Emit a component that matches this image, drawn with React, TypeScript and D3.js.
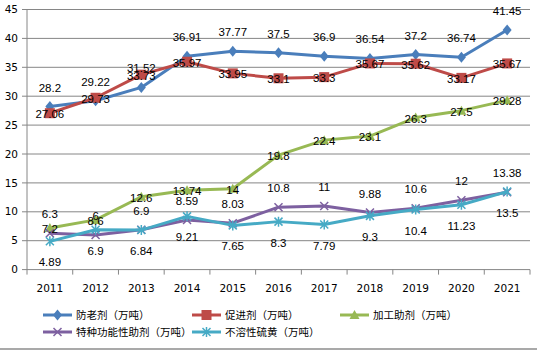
import React, { useEffect, useRef } from 'react';
import * as d3 from 'd3';

const years = ['2011', '2012', '2013', '2014', '2015', '2016', '2017', '2018', '2019', '2020', '2021'];
const antioxidant = [28.2, 29.22, 31.52, 36.91, 37.77, 37.5, 36.9, 36.54, 37.2, 36.74, 41.45];
const accelerator = [27.06, 29.73, 33.73, 35.97, 33.95, 33.1, 33.3, 35.67, 35.62, 33.17, 35.67];
const processingAid = [7.2, 8.6, 12.6, 13.74, 14, 19.8, 22.4, 23.1, 26.3, 27.5, 29.28];
const specialAid = [6.3, 6, 6.9, 8.59, 8.03, 10.8, 11, 9.88, 10.6, 12, 13.38];
const insolubleSulfur = [4.89, 6.9, 6.84, 9.21, 7.65, 8.3, 7.79, 9.3, 10.4, 11.23, 13.5];
const yTicks = [0, 5, 10, 15, 20, 25, 30, 35, 40, 45];

const series = [
  { name: '防老剂（万吨）', values: antioxidant, color: '#4A7EBB', marker: 'diamond', label: 'above' },
  { name: '促进剂（万吨）', values: accelerator, color: '#BE4B48', marker: 'square', label: 'center' },
  { name: '加工助剂（万吨）', values: processingAid, color: '#98B954', marker: 'triangle', label: 'center' },
  { name: '特种功能性助剂（万吨）', values: specialAid, color: '#7D60A0', marker: 'x', label: 'above' },
  { name: '不溶性硫黄（万吨）', values: insolubleSulfur, color: '#46AAC5', marker: 'star', label: 'below' },
];

const W = 537, H = 352;
const numFont = '"Liberation Sans", Arial, sans-serif';
const axisFont = '"DejaVu Sans", Verdana, sans-serif';
const cjkFont = '"Noto Sans CJK SC", sans-serif';

// draws one marker centred at (cx, cy)
function drawMarker(g, type, cx, cy, color) {
  if (type === 'diamond') {
    g.append('path').attr('d', `M${cx},${cy - 5.5}L${cx + 4.5},${cy}L${cx},${cy + 5.5}L${cx - 4.5},${cy}Z`).attr('fill', color);
  } else if (type === 'square') {
    g.append('rect').attr('x', cx - 5).attr('y', cy - 5).attr('width', 10).attr('height', 10).attr('fill', color);
  } else if (type === 'triangle') {
    g.append('path').attr('d', `M${cx},${cy - 5}L${cx + 5},${cy + 4}L${cx - 5},${cy + 4}Z`).attr('fill', color);
  } else if (type === 'x') {
    g.append('path').attr('d', `M${cx - 4},${cy - 4}L${cx + 4},${cy + 4}M${cx - 4},${cy + 4}L${cx + 4},${cy - 4}`)
      .attr('stroke', color).attr('stroke-width', 1.5).attr('fill', 'none');
  } else {
    g.append('path').attr('d', `M${cx - 4},${cy - 4}L${cx + 4},${cy + 4}M${cx - 4},${cy + 4}L${cx + 4},${cy - 4}M${cx},${cy - 5}L${cx},${cy + 5}`)
      .attr('stroke', color).attr('stroke-width', 1.5).attr('fill', 'none');
  }
}

export default function App() {
  const ref = useRef(null);

  useEffect(() => {
    const svg = d3.select(ref.current);
    svg.selectAll('*').remove();

    const x = d3.scaleBand().domain(years).range([27, 530]);
    const y = d3.scaleLinear().domain([0, 45]).range([269.6, 9.5]);
    const cx = (d) => x(d) + x.bandwidth() / 2;

    svg.append('rect').attr('width', W).attr('height', H).attr('fill', '#fff');

    // gridlines and y axis
    svg.selectAll('.grid').data(yTicks).enter().append('line')
      .attr('x1', 22).attr('x2', 530)
      .attr('y1', (d) => y(d)).attr('y2', (d) => y(d))
      .attr('stroke', '#868686').attr('stroke-width', 1);
    svg.append('line').attr('x1', 27).attr('x2', 27).attr('y1', y(45)).attr('y2', y(0))
      .attr('stroke', '#868686');
    svg.selectAll('.ylab').data(yTicks).enter().append('text')
      .attr('x', 18).attr('y', (d) => y(d)).attr('dy', '0.35em')
      .attr('text-anchor', 'end').attr('font-family', axisFont).attr('font-size', 10.5).attr('fill', '#000')
      .text((d) => d);

    // x axis ticks + labels
    const bounds = years.map((d) => x(d)).concat([530]);
    svg.selectAll('.xtick').data(bounds).enter().append('line')
      .attr('x1', (d) => d).attr('x2', (d) => d).attr('y1', y(0)).attr('y2', y(0) + 5)
      .attr('stroke', '#868686');
    svg.selectAll('.xlab').data(years).enter().append('text')
      .attr('x', (d) => cx(d)).attr('y', 288).attr('dy', '0.35em')
      .attr('text-anchor', 'middle').attr('font-family', axisFont).attr('font-size', 10.5).attr('fill', '#000')
      .text((d) => d);

    // lines and markers
    const line = d3.line().x((d, i) => cx(years[i])).y((d) => y(d));
    series.forEach((s) => {
      svg.append('path').datum(s.values).attr('d', line)
        .attr('fill', 'none').attr('stroke', s.color).attr('stroke-width', 3).attr('stroke-linejoin', 'round');
      const g = svg.append('g');
      s.values.forEach((v, i) => drawMarker(g, s.marker, cx(years[i]), y(v), s.color));
    });

    // data labels
    series.forEach((s) => {
      const off = s.label === 'above' ? -19 : s.label === 'below' ? 21 : 1;
      svg.append('g').selectAll('text').data(s.values).enter().append('text')
        .attr('x', (d, i) => cx(years[i])).attr('y', (d) => y(d) + off).attr('dy', '0.35em')
        .attr('text-anchor', 'middle').attr('font-family', numFont).attr('font-size', 11.5).attr('fill', '#000')
        .text((d) => d);
    });

    // legend
    const legendPos = [[43, 315], [192, 315], [340, 315], [43, 332], [192, 332]];
    series.forEach((s, i) => {
      const [lx, ly] = legendPos[i];
      const g = svg.append('g');
      g.append('line').attr('x1', lx).attr('x2', lx + 29).attr('y1', ly).attr('y2', ly)
        .attr('stroke', s.color).attr('stroke-width', 3);
      drawMarker(g, s.marker, lx + 14.5, ly, s.color);
      g.append('text').attr('x', lx + 33).attr('y', ly).attr('dy', '0.35em')
        .attr('font-family', cjkFont).attr('font-size', 10.5).attr('fill', '#000')
        .text(s.name);
    });

    // bottom border
    svg.append('line').attr('x1', 0).attr('x2', W).attr('y1', 349).attr('y2', 349)
      .attr('stroke', '#8c8c8c').attr('stroke-width', 1.5);
  }, []);

  return (
    <svg ref={ref} width={W} height={H} style={{ position: 'absolute', left: 0, top: 0 }}></svg>
  );
}
